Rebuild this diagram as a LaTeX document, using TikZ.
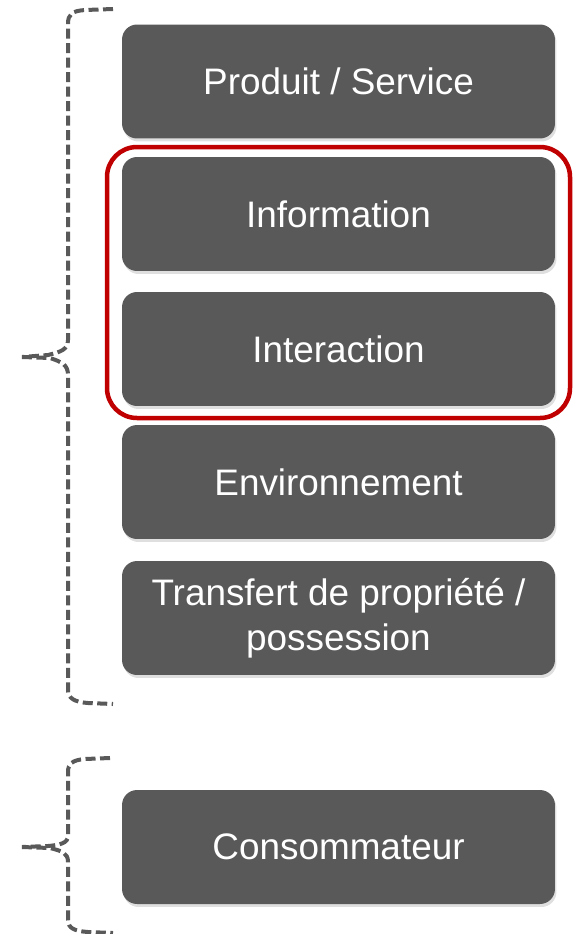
\documentclass[tikz,border=0pt]{standalone}
\usepackage{fontspec}
\setmainfont{Liberation Sans}
\usetikzlibrary{shadows}
\definecolor{grisfonce}{HTML}{595959}
\definecolor{rougecadre}{HTML}{C00000}
\tikzset{
  boite/.style={draw=none, fill=grisfonce, rounded corners=0.3cm, minimum width=8.66cm, minimum height=2.28cm,
    text=white, align=center, font=\fontsize{21}{25.5}\selectfont,
    drop shadow={opacity=0.25, shadow xshift=0.03cm, shadow yshift=-0.06cm}},
  accolade/.style={draw=grisfonce, line width=0.08cm, dash pattern=on 0.2cm off 0.09cm}
}
\begin{document}
\begin{tikzpicture}[x=0.02cm,y=-0.02cm]
			%%%%% START %%%%%
			\useasboundingbox (0,0) rectangle (572,934);
			
			% cadre rouge
			\draw[rougecadre, line width=0.09cm, rounded corners=0.6cm] (107,147) rectangle (570,418);
			
			\node[boite] (produit) at (338.5,81.5) {Produit / Service};
			\node[boite] (information) at (338.5,214) {Information};
			\node[boite] (interaction) at (338.5,349) {Interaction};
			\node[boite] (environnement) at (338.5,482) {Environnement};
			\node[boite] (transfert) at (338.5,618) {Transfert de propriété /\\possession};
			\node[boite] (consommateur) at (338.5,847) {Consommateur};
			
			% accolade du haut
			\draw[accolade] (113,9) -- (85,10) .. controls (72,11) and (68,14) .. (68,24) -- (68,340)
			  .. controls (68,350) and (60,352) .. (48,355) -- (22,357);
			\draw[accolade] (22,357) -- (50,358) .. controls (62,362) and (68,365) .. (68,375) -- (68,690)
			  .. controls (68,698) and (74,702) .. (88,703) -- (113,704);
			
			% accolade du bas
			\draw[accolade] (110,758) -- (85,759) .. controls (72,760) and (68,764) .. (68,772) -- (68,836)
			  .. controls (68,843) and (60,845) .. (48,846) -- (22,847);
			\draw[accolade] (22,847) -- (50,848) .. controls (62,851) and (68,853) .. (68,862) -- (68,920)
			  .. controls (68,928) and (74,931) .. (88,932) -- (113,933);
			
			%%%%% END %%%%%
\end{tikzpicture}
\end{document}
